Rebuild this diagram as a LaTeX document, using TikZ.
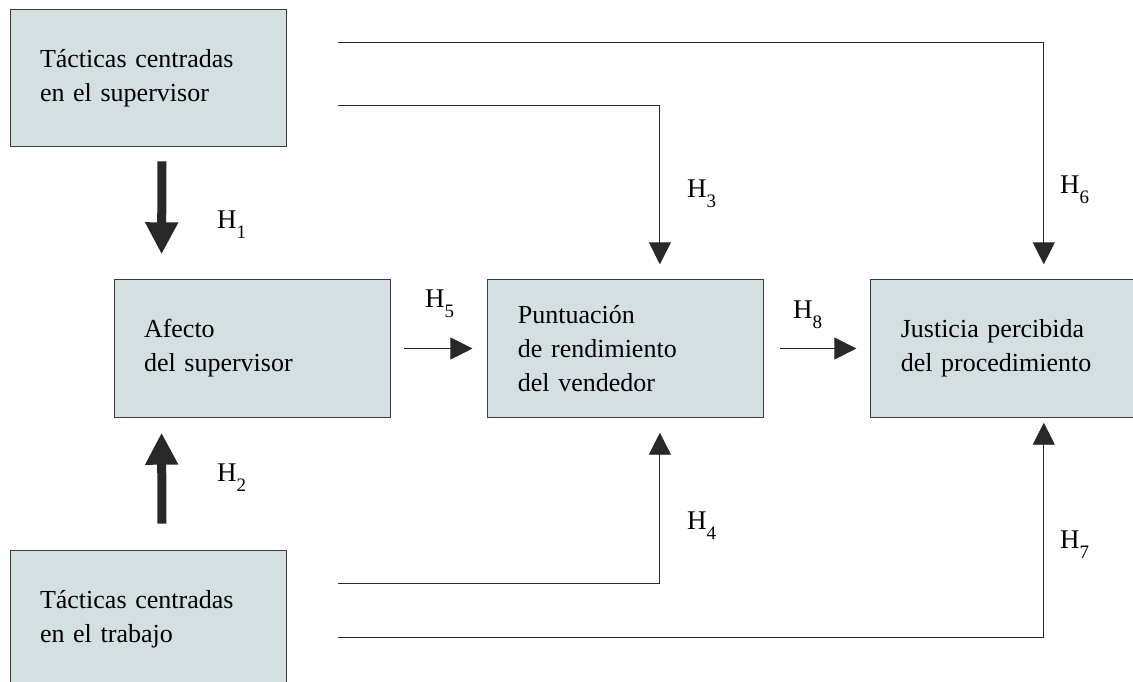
\documentclass[tikz,border=0pt]{standalone}
\usepackage{fontspec}
\setmainfont{Liberation Serif}
\usepackage{tikz}
\usetikzlibrary{arrows.meta}
\usetikzlibrary{calc}
\usetikzlibrary{positioning}

\definecolor{boxfill}{RGB}{211,223,225}
\definecolor{boxline}{RGB}{60,60,60}
\definecolor{arrline}{RGB}{40,40,40}

\newcommand{\hsub}[1]{\raisebox{-10pt}{\fontsize{19}{19}\selectfont #1}}

\tikzset{
  varbox/.style={draw=boxline, fill=boxfill, line width=0.9pt,
    minimum width=276pt, minimum height=137.5pt, inner xsep=30pt,
    text width=216pt, align=left, font=\fontsize{26}{34}\selectfont},
  thinarr/.style={draw=arrline, line width=0.9pt,
    -{Triangle[width=22pt,length=22pt]}},
  thickarr/.style={draw=arrline, fill=arrline, line width=9pt,
    -{Triangle[width=31pt,length=32pt]}},
  hlab/.style={inner sep=0pt, anchor=base west,
    font=\fontsize{27}{27}\selectfont}
}

\begin{document}
\begin{tikzpicture}[x=1pt,y=-1pt]

  \useasboundingbox (0,0) rectangle (1133,681);
  \clip (0,0) rectangle (1133,681);

  \node[varbox] (afecto) at (252,348.5) {Afecto\\del supervisor};
  \node[varbox] (punt) [right=97pt of afecto] {Puntuación\\de rendimiento\\del vendedor};
  \node[varbox] (just) [right=106pt of punt] {Justicia percibida\\del procedimiento};
  \node[varbox] (tsup) [above=132pt of afecto, xshift=-104pt] {Tácticas centradas\\en el supervisor};
  \node[varbox] (ttrab) [below=132pt of afecto, xshift=-104pt] {Tácticas centradas\\en el trabajo};

  % thick arrows into the affect box
  \coordinate (a1) at ($(tsup.south)+(14,14)$);
  \coordinate (b1) at ($(afecto.north west)+(48,-25)$);
  \coordinate (a2) at ($(ttrab.north)+(14,-26)$);
  \coordinate (b2) at ($(afecto.south west)+(48,15)$);
  \draw[thickarr] (a1) -- (b1);
  \draw[thickarr] (a2) -- (b2);

  % start points of the long connectors
  \coordinate (s6) at ($(tsup.north east)+(52,34)$);
  \coordinate (s3) at ($(tsup.north east)+(52,97)$);
  \coordinate (s4) at ($(ttrab.north east)+(52,34)$);
  \coordinate (s7) at ($(ttrab.north east)+(52,88)$);

  \draw[thinarr, shorten >=15pt] (s3) -| ($(punt.north)+(34,0)$);
  \draw[thinarr, shorten >=15pt] (s6) -| ($(just.north)+(35,0)$);
  \draw[thinarr, shorten >=15pt] (s4) -| ($(punt.south)+(34,0)$);
  \draw[thinarr, shorten >=5pt] (s7) -| ($(just.south)+(35,0)$);

  \draw[thinarr, shorten <=14pt, shorten >=15pt] (afecto) -- (punt);
  \draw[thinarr, shorten <=16pt, shorten >=14pt] (punt) -- (just);

  % hypothesis labels
  \node[hlab] (h1) at (217,228) {H\hsub{1}};
  \node[hlab] (h2) at (217,481) {H\hsub{2}};
  \node[hlab] (h3) at (687,197) {H\hsub{3}};
  \node[hlab] (h4) at (687,529) {H\hsub{4}};
  \node[hlab] (h5) at (425,307) {H\hsub{5}};
  \node[hlab] (h6) at (1060,193) {H\hsub{6}};
  \node[hlab] (h7) at (1060,548) {H\hsub{7}};
  \node[hlab] (h8) at (793,318) {H\hsub{8}};

\end{tikzpicture}
\end{document}
